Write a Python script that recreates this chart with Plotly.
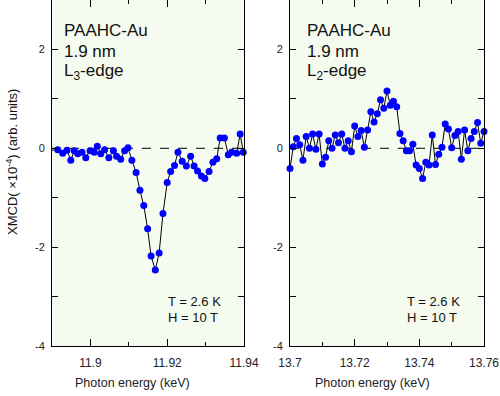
import plotly.graph_objects as go

# Left panel: L3-edge
e_l3 = [11.8897, 11.8915, 11.8928, 11.8939, 11.8949, 11.8958, 11.8967, 11.8978, 11.8988, 11.8999,
        11.9010, 11.9018, 11.9027, 11.9037, 11.9048, 11.9060, 11.9068, 11.9079, 11.9089, 11.9098,
        11.9108, 11.9119, 11.9129, 11.9139, 11.9149, 11.9158, 11.9169, 11.9179, 11.9189, 11.9200,
        11.9209, 11.9219, 11.9228, 11.9239, 11.9250, 11.9261, 11.9270, 11.9279, 11.9289, 11.9298,
        11.9309, 11.9319, 11.9329, 11.9338, 11.9349, 11.9359, 11.9368, 11.9381, 11.9390, 11.9398]
v_l3 = [-0.04, -0.03, -0.10, -0.04, -0.24, -0.05, -0.11, -0.08, -0.19, -0.05,
        -0.08, 0.04, -0.11, -0.03, -0.19, -0.05, -0.16, -0.22, -0.05, 0.01,
        -0.24, -0.49, -0.85, -1.16, -1.63, -2.18, -2.46, -2.12, -1.32, -0.69,
        -0.47, -0.35, -0.08, -0.26, -0.36, -0.16, -0.36, -0.46, -0.56, -0.61,
        -0.47, -0.28, -0.21, 0.21, 0.21, -0.13, -0.08, -0.10, 0.29, -0.08]

# Right panel: L2-edge
e_l2 = [round(13.700 + 0.001 * i, 3) for i in range(61)]
v_l2 = [-0.41, 0.03, 0.20, 0.07, -0.24, 0.24, 0.00, 0.29, -0.02, 0.29,
        -0.32, -0.18, 0.15, 0.00, 0.27, 0.11, 0.29, 0.00, 0.15, -0.07,
        0.45, 0.24, 0.36, 0.02, 0.37, 0.74, 0.53, 0.70, 0.98, 0.81,
        1.16, 0.87, 0.95, 0.84, 0.30, 0.15, -0.05, -0.05, 0.08, -0.34,
        -0.41, -0.61, -0.28, -0.34, 0.27, -0.33, -0.12, 0.02, 0.49, 0.39,
        0.01, 0.26, 0.34, -0.22, 0.37, -0.05, 0.20, 0.34, 0.52, 0.10,
        0.34]

y_major = [-4, -2, 0, 2]
y_minor = [-3, -1, 1, 3]
x1_major = [11.90, 11.92, 11.94]
x1_minor = [11.89, 11.91, 11.93]
x2_major = [13.70, 13.72, 13.74, 13.76]
x2_minor = [13.71, 13.73, 13.75]

W, H = 500, 396
FONT = "Liberation Sans, Arial, sans-serif"
BG = "#f5fbef"

fig = go.Figure()
fig.add_trace(go.Scatter(x=e_l3, y=v_l3, mode="lines+markers", xaxis="x", yaxis="y",
                         line=dict(color="black", width=1),
                         marker=dict(color="#0000ff", size=7), showlegend=False, cliponaxis=False))
fig.add_trace(go.Scatter(x=e_l2, y=v_l2, mode="lines+markers", xaxis="x2", yaxis="y2",
                         line=dict(color="black", width=1),
                         marker=dict(color="#0000ff", size=7), showlegend=False, cliponaxis=False))

def xaxis(dom, rng, major, minor, anchor):
    return dict(domain=dom, range=rng, anchor=anchor, tickvals=major, automargin=False,
                ticktext=[("%g" % v) for v in major],
                ticks="inside", ticklen=7, tickcolor="black", tickwidth=1,
                showline=True, linecolor="black", linewidth=1, mirror="allticks",
                showgrid=False, zeroline=False,
                minor=dict(tickvals=minor, ticks="inside", ticklen=4, tickcolor="black", showgrid=False),
                tickfont=dict(family=FONT, size=12, color="#222"),
                ticklabelstandoff=6)

def yaxis(dom, anchor):
    return dict(domain=dom, range=[-4, 3], anchor=anchor, tickvals=y_major,
                ticktext=[str(v) for v in y_major],
                automargin=False,
                ticks="inside", ticklen=6, tickcolor="black", tickwidth=1,
                showline=True, linecolor="black", linewidth=1, mirror="allticks",
                showgrid=False, zeroline=False,
                minor=dict(tickvals=y_minor, ticks="inside", ticklen=6, tickcolor="black", showgrid=False),
                tickfont=dict(family=FONT, size=11, color="#222"), ticklabelstandoff=4)

ydom = [50 / H, 1.0]
fig.update_layout(
    width=W, height=H, margin=dict(l=0, r=0, t=0, b=0, autoexpand=False),
    paper_bgcolor="white", plot_bgcolor=BG,
    xaxis=xaxis([52 / W, 244 / W], [11.89, 11.94], x1_major, x1_minor, "y"),
    yaxis=yaxis(ydom, "x"),
    xaxis2=xaxis([290 / W, 484 / W], [13.70, 13.76], x2_major, x2_minor, "y2"),
    yaxis2=yaxis(ydom, "x2"),
)

# dashed zero lines
for xr, yr in (("x domain", "y"), ("x2 domain", "y2")):
    fig.add_shape(type="line", xref=xr, yref=yr, x0=0, x1=1, y0=0, y1=0,
                  line=dict(color="black", width=1, dash="dash"), layer="below")

def py(pix):
    return (H - pix) / H

ann = []
for x0, edge in ((62, "L<sub>3</sub>-edge"), (305, "L<sub>2</sub>-edge")):
    for txt, yp in (("PAAHC-Au", 30), ("1.9 nm", 51), (edge, 72)):
        ann.append(dict(x=x0 / W, y=py(yp), xref="paper", yref="paper", text=txt, showarrow=False,
                        xanchor="left", yanchor="middle", font=dict(family=FONT, size=17, color="#111")))
for x0 in (166, 405):
    for txt, yp in (("T = 2.6 K", 301), ("H = 10 T", 317)):
        ann.append(dict(x=x0 / W, y=py(yp), xref="paper", yref="paper", text=txt, showarrow=False,
                        xanchor="left", yanchor="middle", font=dict(family=FONT, size=13, color="#111")))
for xc in (132, 372):
    ann.append(dict(x=xc / W, y=py(383), xref="paper", yref="paper", text="Photon energy (keV)",
                    showarrow=False, xanchor="center", yanchor="middle",
                    font=dict(family=FONT, size=12.5, color="#222")))
ann.append(dict(x=12 / W, y=py(162), xref="paper", yref="paper",
                text="XMCD( \u00d710<sup>-4</sup>) (arb. units)", textangle=-90, showarrow=False,
                xanchor="center", yanchor="middle", font=dict(family=FONT, size=13, color="#111")))
fig.update_layout(annotations=ann)

fig.write_html("out.html", config={"displayModeBar": False},
               post_script="document.body.style.margin='0';document.body.style.overflow='hidden';")
